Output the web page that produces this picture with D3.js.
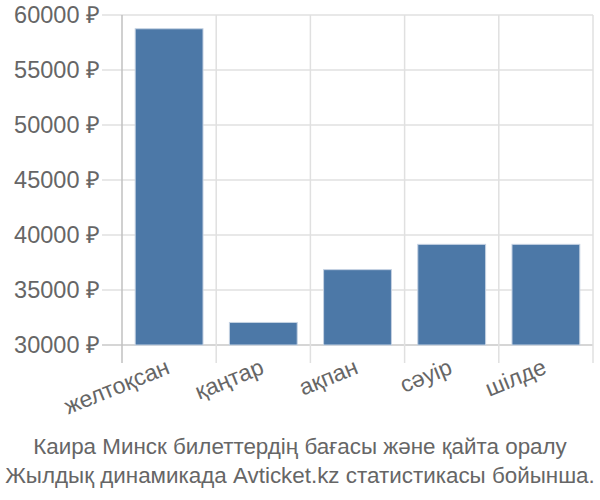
<!DOCTYPE html>
<html><head><meta charset="utf-8">
<script src="https://cdn.jsdelivr.net/npm/d3@7"></script>
<style>body{margin:0;background:#fff}text{font-family:"Liberation Sans",Arial,sans-serif}</style>
</head><body><svg id="c" width="600" height="500"></svg>
<script>
const categories = ["желтоқсан","қаңтар","ақпан","сәуір","шілде"];
const prices = [58750, 32050, 36850, 39150, 39150];
const yTicks = [30000,35000,40000,45000,50000,55000,60000];
const titleLines = ["Каира Минск билеттердің бағасы және қайта оралу","Жылдық динамикада Avticket.kz статистикасы бойынша."];

const svg = d3.select("#c");
const pLeft = 122, pRight = 593, pTop = 15, pBottom = 345;
const x = d3.scaleBand().domain(categories).range([pLeft,pRight]).padding(0);
const y = d3.scaleLinear().domain([30000,60000]).range([pBottom,pTop]);

// horizontal grid
svg.append("g").selectAll("line").data(yTicks).join("line")
  .attr("x1",102).attr("x2",pRight).attr("y1",d=>y(d)).attr("y2",d=>y(d))
  .attr("stroke",d=>d===30000?"#c8c8c8":"#e0e0e0").attr("stroke-width",1.5);
// vertical grid
const vx = categories.map(c=>x(c)).concat([pRight]);
svg.append("g").selectAll("line").data(vx).join("line")
  .attr("x1",d=>d).attr("x2",d=>d).attr("y1",pTop).attr("y2",363)
  .attr("stroke",(d,i)=>i===0?"#c0c0c0":"#e0e0e0").attr("stroke-width",1.5);

// bars
const bw = x.bandwidth()*0.72;
svg.append("g").selectAll("rect").data(prices).join("rect")
  .attr("x",(d,i)=>x(categories[i])+(x.bandwidth()-bw)/2)
  .attr("width",bw)
  .attr("y",d=>y(d)).attr("height",d=>pBottom-y(d))
  .attr("fill","#4c78a7").attr("stroke","#c5d2e2").attr("stroke-width",1);

// y labels
svg.append("g").selectAll("text").data(yTicks).join("text")
  .attr("x",100).attr("y",d=>y(d)).attr("dy","0.35em")
  .attr("text-anchor","end").attr("font-size",23.5).attr("fill","#666")
  .text(d=>d+" ₽");

// x labels
svg.append("g").selectAll("text").data(categories).join("text")
  .attr("transform",d=>`translate(${x(d)+x.bandwidth()/2+2},373) rotate(-22)`)
  .attr("text-anchor","end").attr("font-size",23).attr("fill","#666")
  .text(d=>d);

// title
svg.append("g").selectAll("text").data(titleLines).join("text")
  .attr("x",300).attr("y",(d,i)=>454+i*29).attr("text-anchor","middle")
  .attr("font-size",22.4).attr("fill","#666").text(d=>d);
</script></body></html>
